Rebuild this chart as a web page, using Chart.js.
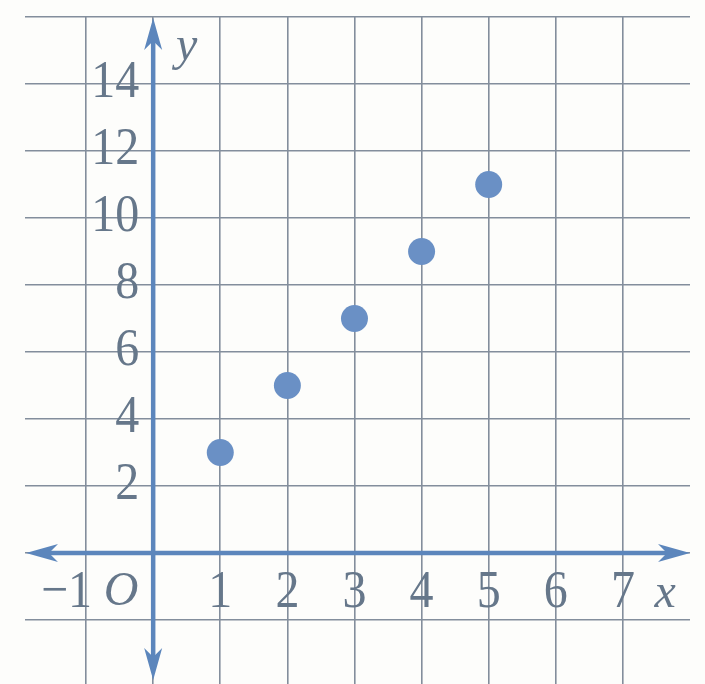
<!DOCTYPE html>
<html>
<head>
<meta charset="utf-8">
<style>
  html, body { margin: 0; padding: 0; background: #fdfdfb; }
  #wrap { width: 705px; height: 684px; position: relative; }
</style>
<script src="https://cdn.jsdelivr.net/npm/chart.js@4/dist/chart.umd.min.js"></script>
</head>
<body>
<div id="wrap"><canvas id="c" width="705" height="684"></canvas></div>
<script>
// Points of the relation: x -> y
const xValues = [1, 2, 3, 4, 5];
const yValues = [3, 5, 7, 9, 11];

// Tick values and their printed labels
const xTickValues = [-1, 1, 2, 3, 4, 5, 6, 7];
const xTickLabels = ['\u22121', '1', '2', '3', '4', '5', '6', '7'];
const yTickValues = [2, 4, 6, 8, 10, 12, 14];
const yTickLabels = ['2', '4', '6', '8', '10', '12', '14'];

// Grid line positions (graph paper)
const xGridValues = [-1, 0, 1, 2, 3, 4, 5, 6, 7];
const yGridValues = [-2, 0, 2, 4, 6, 8, 10, 12, 14, 16];

const AXIS_COLOR = '#5c86bc';
const GRID_COLOR = '#838e9c';
const TEXT_COLOR = '#66778a';
const POINT_COLOR = '#6a90c5';
const NUM_FONT = '48px "Liberation Serif", "DejaVu Serif", serif';
const ITALIC_FONT = 'italic 48px "Liberation Serif", "DejaVu Serif", serif';

function arrowHead(ctx, tipX, tipY, dirX, dirY) {
  const len = 32, half = 9, notch = 9;
  const px = -dirY, py = dirX;
  const bx = tipX - dirX * len, by = tipY - dirY * len;
  ctx.beginPath();
  ctx.moveTo(tipX, tipY);
  ctx.lineTo(bx + px * half, by + py * half);
  ctx.lineTo(tipX - dirX * (len - notch), tipY - dirY * (len - notch));
  ctx.lineTo(bx - px * half, by - py * half);
  ctx.closePath();
  ctx.fill();
}

// Numerals of the book face are a little taller than Liberation Serif's
function tallText(ctx, text, x, y, align) {
  ctx.save();
  ctx.translate(x, y);
  ctx.scale(1, 1.12);
  ctx.textAlign = align;
  ctx.fillText(text, 0, 0);
  ctx.restore();
}

const coordinatePlane = {
  id: 'coordinatePlane',
  beforeDraw(chart) {
    const ctx = chart.ctx;
    ctx.save();
    ctx.fillStyle = '#fdfdfb';
    ctx.fillRect(0, 0, chart.width, chart.height);
    ctx.restore();
  },
  beforeDatasetsDraw(chart) {
    const ctx = chart.ctx;
    const xs = chart.scales.x, ys = chart.scales.y;
    const area = chart.chartArea;
    const x0 = xs.getPixelForValue(0);
    const y0 = ys.getPixelForValue(0);

    ctx.save();
    // axes with arrows at both ends
    ctx.strokeStyle = AXIS_COLOR;
    ctx.fillStyle = AXIS_COLOR;
    ctx.lineWidth = 4.5;
    const left = area.left + 1, right = area.right;
    const top = area.top + 1, bottom = area.bottom - 4;
    ctx.beginPath();
    ctx.moveTo(left + 20, y0);
    ctx.lineTo(right - 20, y0);
    ctx.moveTo(x0, top + 20);
    ctx.lineTo(x0, bottom - 20);
    ctx.stroke();
    arrowHead(ctx, left, y0, -1, 0);
    arrowHead(ctx, right, y0, 1, 0);
    arrowHead(ctx, x0, top, 0, -1);
    arrowHead(ctx, x0, bottom, 0, 1);

    // tick labels
    ctx.fillStyle = TEXT_COLOR;
    ctx.font = NUM_FONT;
    ctx.textBaseline = 'middle';
    const labelY = (y0 + ys.getPixelForValue(-2)) / 2 + 6;
    xTickValues.forEach((v, i) => {
      const px = xs.getPixelForValue(v);
      if (v < 0) {
        tallText(ctx, xTickLabels[i], px + 6, labelY, 'right');
      } else {
        tallText(ctx, xTickLabels[i], px, labelY, 'center');
      }
    });
    yTickValues.forEach((v, i) => {
      tallText(ctx, yTickLabels[i], x0 - 14, ys.getPixelForValue(v) - 1, 'right');
    });

    // origin and axis names
    ctx.font = ITALIC_FONT;
    ctx.textAlign = 'center';
    ctx.fillText('O', xs.getPixelForValue(-0.48), labelY);
    ctx.fillText('x', xs.getPixelForValue(7.63), labelY + 2);
    ctx.fillText('y', xs.getPixelForValue(0.5), ys.getPixelForValue(15.1));
    ctx.restore();
  }
};

new Chart(document.getElementById('c'), {
  type: 'scatter',
  data: {
    datasets: [{
      data: xValues.map((x, i) => ({ x, y: yValues[i] })),
      backgroundColor: POINT_COLOR,
      borderWidth: 0,
      pointRadius: 13.5,
      pointHoverRadius: 13.5
    }]
  },
  options: {
    responsive: false,
    devicePixelRatio: 1,
    animation: false,
    events: [],
    layout: { autoPadding: false, padding: { left: 25, right: 15, top: 17, bottom: 0 } },
    plugins: { legend: { display: false }, tooltip: { enabled: false } },
    scales: {
      x: {
        type: 'linear',
        min: -1.91,
        max: 8,
        afterBuildTicks(scale) { scale.ticks = xGridValues.map(v => ({ value: v })); },
        afterFit(scale) { scale.height = 0; },
        ticks: { display: false },
        border: { display: false },
        grid: { color: GRID_COLOR, lineWidth: 1.6, drawTicks: false }
      },
      y: {
        type: 'linear',
        min: -3.91,
        max: 16,
        afterBuildTicks(scale) { scale.ticks = yGridValues.map(v => ({ value: v })); },
        afterFit(scale) { scale.width = 0; },
        ticks: { display: false },
        border: { display: false },
        grid: { color: GRID_COLOR, lineWidth: 1.6, drawTicks: false }
      }
    }
  },
  plugins: [coordinatePlane]
});
</script>
</body>
</html>
